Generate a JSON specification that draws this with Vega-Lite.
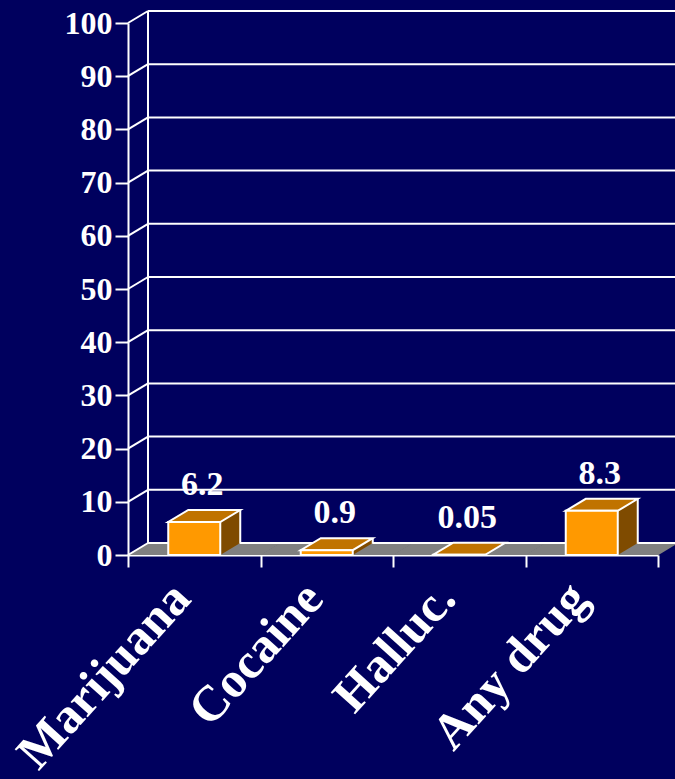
{
  "$schema": "https://vega.github.io/schema/vega-lite/v6.json",
  "width": 530,
  "height": 532,
  "autosize": {"type": "none"},
  "padding": {"left": 128, "top": 23, "right": 17, "bottom": 224},
  "background": "#00005e",
  "config": {
    "view": {"stroke": null},
    "font": "Liberation Serif",
    "axis": {
      "grid": false,
      "domainColor": "white",
      "domainWidth": 2,
      "tickColor": "white",
      "tickWidth": 2,
      "labelColor": "white",
      "labelFont": "Liberation Serif",
      "labelFontWeight": "bold",
      "labelOverlap": false,
      "labelLimit": 400
    }
  },
  "datasets": {
    "drugs": [
      {"drug": "Marijuana", "pct": 6.2},
      {"drug": "Cocaine", "pct": 0.9},
      {"drug": "Halluc.", "pct": 0.05},
      {"drug": "Any drug", "pct": 8.3}
    ],
    "ticks": [
      {"v": 0}, {"v": 10}, {"v": 20}, {"v": 30}, {"v": 40}, {"v": 50},
      {"v": 60}, {"v": 70}, {"v": 80}, {"v": 90}, {"v": 100}
    ]
  },
  "data": {"name": "drugs"},
  "layer": [
    {
      "description": "floor slab, one segment per category band",
      "mark": {
        "type": "point",
        "shape": "M -1 0.0782 L 0.7394 0.0782 L 1 -0.0782 L -0.7394 -0.0782 Z",
        "size": 23562,
        "filled": true,
        "fill": "#808080",
        "strokeWidth": 0,
        "opacity": 1,
        "xOffset": 10,
        "yOffset": -6
      },
      "encoding": {
        "x": {
          "field": "drug",
          "type": "nominal",
          "title": null,
          "scale": {
            "domain": ["Marijuana", "Cocaine", "Halluc.", "Any drug"],
            "paddingInner": 0,
            "paddingOuter": 0
          },
          "axis": {
            "tickBand": "extent",
            "tickSize": 12,
            "labelAngle": -48,
            "labelAlign": "right",
            "labelBaseline": "alphabetic",
            "labelFontSize": 50,
            "labelPadding": 33,
            "labelOffset": -2,
            "labelBound": false,
            "labelFlush": false
          }
        },
        "y": {"datum": 0, "type": "quantitative", "scale": {"domain": [0, 100], "nice": false}}
      }
    },
    {
      "description": "back wall grid lines",
      "data": {"name": "ticks"},
      "mark": {"type": "rule", "color": "white", "strokeWidth": 2, "xOffset": 20, "x2Offset": 20, "yOffset": -12},
      "encoding": {
        "x": {"datum": "Marijuana", "type": "nominal", "bandPosition": 0},
        "x2": {"datum": "Any drug", "bandPosition": 1},
        "y": {
          "field": "v",
          "type": "quantitative",
          "title": null,
          "axis": {
            "values": [0, 10, 20, 30, 40, 50, 60, 70, 80, 90, 100],
            "tickSize": 13,
            "labelPadding": 3,
            "labelFontSize": 32,
            "labelBaseline": "middle"
          }
        }
      }
    },
    {
      "description": "back wall left edge",
      "data": {"name": "ticks"},
      "mark": {"type": "rule", "color": "white", "strokeWidth": 2, "xOffset": 20, "yOffset": -12, "y2Offset": -12},
      "encoding": {
        "x": {"datum": "Marijuana", "type": "nominal", "bandPosition": 0},
        "y": {"aggregate": "min", "field": "v", "type": "quantitative", "title": null},
        "y2": {"aggregate": "max", "field": "v"}
      }
    },
    {
      "description": "side wall connectors from the front axis ticks to the back wall",
      "data": {"name": "ticks"},
      "mark": {"type": "rule", "color": "white", "strokeWidth": 2, "x2Offset": 20, "y2Offset": -12},
      "encoding": {
        "x": {"datum": "Marijuana", "type": "nominal", "bandPosition": 0},
        "x2": {"datum": "Marijuana", "bandPosition": 0},
        "y": {"field": "v", "type": "quantitative", "title": null},
        "y2": {"field": "v"}
      }
    },
    {
      "description": "box side, drawn as the shifted back face",
      "mark": {"type": "bar", "width": 52, "fill": "#7f4b00", "xOffset": 20, "yOffset": -12, "y2Offset": -12},
      "encoding": {
        "x": {"field": "drug", "type": "nominal"},
        "y": {"field": "pct", "type": "quantitative", "title": null},
        "y2": {"datum": 0}
      }
    },
    {
      "description": "box side, lower corner on the floor",
      "mark": {
        "type": "point",
        "shape": "M -1 -0.6 L 1 -0.6 L -1 0.6 Z",
        "size": 400,
        "filled": true,
        "fill": "#7f4b00",
        "strokeWidth": 0,
        "opacity": 1,
        "xOffset": 36,
        "yOffset": -6
      },
      "encoding": {
        "x": {"field": "drug", "type": "nominal"},
        "y": {"datum": 0, "type": "quantitative"}
      }
    },
    {
      "description": "box top",
      "mark": {
        "type": "point",
        "shape": "M -1 0.16667 L 0.44444 0.16667 L 1 -0.16667 L -0.44444 -0.16667 Z",
        "size": 5184,
        "filled": true,
        "fill": "#c07300",
        "stroke": "white",
        "strokeWidth": 2,
        "strokeJoin": "miter",
        "opacity": 1,
        "xOffset": 10,
        "yOffset": -6
      },
      "encoding": {
        "x": {"field": "drug", "type": "nominal"},
        "y": {"field": "pct", "type": "quantitative", "title": null}
      }
    },
    {
      "description": "box front",
      "mark": {"type": "bar", "width": 52, "fill": "#ff9900", "stroke": "white", "strokeWidth": 2},
      "encoding": {
        "x": {"field": "drug", "type": "nominal"},
        "y": {"field": "pct", "type": "quantitative", "title": null},
        "y2": {"datum": 0}
      }
    },
    {
      "description": "box back right edge",
      "mark": {"type": "rule", "color": "white", "strokeWidth": 2, "xOffset": 46, "yOffset": -12, "y2Offset": -12},
      "encoding": {
        "x": {"field": "drug", "type": "nominal"},
        "y": {"field": "pct", "type": "quantitative", "title": null},
        "y2": {"datum": 0}
      }
    },
    {
      "description": "value labels",
      "mark": {
        "type": "text",
        "font": "Liberation Serif",
        "fontWeight": "bold",
        "fontSize": 34,
        "color": "white",
        "align": "center",
        "baseline": "alphabetic",
        "dx": 8,
        "dy": -27
      },
      "encoding": {
        "x": {"field": "drug", "type": "nominal"},
        "y": {"field": "pct", "type": "quantitative", "title": null},
        "text": {"field": "pct", "type": "quantitative"}
      }
    }
  ]
}
